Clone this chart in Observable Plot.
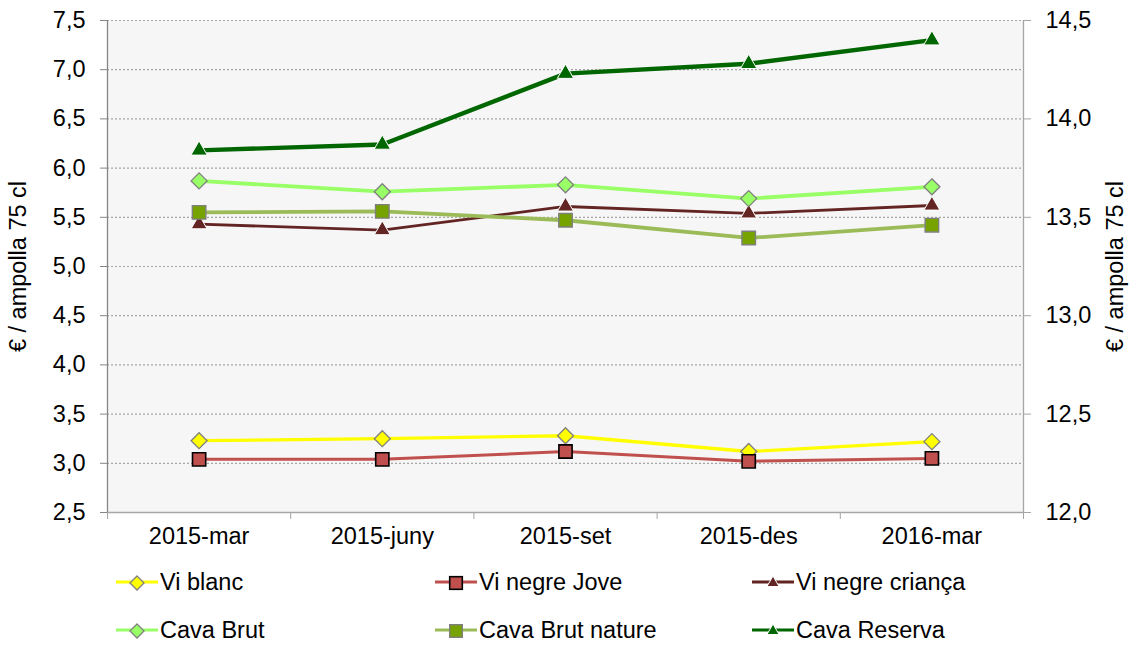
<!DOCTYPE html>
<html><head><meta charset="utf-8">
<script src="https://cdn.jsdelivr.net/npm/d3@7"></script>
<script src="https://cdn.jsdelivr.net/npm/@observablehq/plot@0.6"></script>
<style>
body{margin:0;background:#fff;font-family:"Liberation Sans",Arial,sans-serif;}
#wrap{position:relative;width:1132px;height:646px;overflow:hidden;}
.leg{position:absolute;display:flex;align-items:center;height:30px;font-size:23.5px;color:#000;white-space:nowrap;}
.leg svg{display:block;margin-right:2px;}
</style></head><body><div id="wrap"></div>
<script>
// ---- data ----
const categories = ["2015-mar", "2015-juny", "2015-set", "2015-des", "2016-mar"];
const viBlanc        = [3.23, 3.25, 3.28, 3.12, 3.22];
const viNegreJove    = [3.04, 3.04, 3.12, 3.02, 3.05];
const viNegreCrianca = [5.43, 5.37, 5.61, 5.54, 5.62];
const cavaBrut       = [5.87, 5.76, 5.83, 5.69, 5.81];
const cavaBrutNature = [5.55, 5.56, 5.47, 5.29, 5.42];
const cavaReserva    = [13.84, 13.87, 14.23, 14.28, 14.40]; // secondary (right) axis
const leftTicks  = [2.5, 3.0, 3.5, 4.0, 4.5, 5.0, 5.5, 6.0, 6.5, 7.0, 7.5];
const rightTicks = [12.0, 12.5, 13.0, 13.5, 14.0, 14.5];
const axisLabel = "€ / ampolla 75 cl";

const series = [
  {name: "Vi blanc",          values: viBlanc,        secondary: false},
  {name: "Vi negre Jove",     values: viNegreJove,    secondary: false},
  {name: "Vi negre criança",  values: viNegreCrianca, secondary: false},
  {name: "Cava Brut",         values: cavaBrut,       secondary: false},
  {name: "Cava Brut nature",  values: cavaBrutNature, secondary: false},
  {name: "Cava Reserva",      values: cavaReserva,    secondary: true}
];

// ---- styles ----
const styles = {
  "Vi blanc":         {line: "#ffff00", w: 3.3, symbol: "diamond2", fill: "#ffff00", stroke: "#7f7f7f", sw: 1.3, r: 7.2},
  "Vi negre Jove":    {line: "#c0504d", w: 3,   symbol: "square2",  fill: "#c0504d", stroke: "#000000", sw: 1.6, r: 8.4},
  "Vi negre criança": {line: "#632523", w: 2.8, symbol: "triangle2",fill: "#632523", stroke: "#ffffff", sw: 1,   r: 7.6},
  "Cava Brut":        {line: "#99ff66", w: 3.8, symbol: "diamond2", fill: "#99ff66", stroke: "#7f7f7f", sw: 1.3, r: 7.2},
  "Cava Brut nature": {line: "#9bbb59", w: 3.8, symbol: "square2",  fill: "#77a300", stroke: "#7f7f7f", sw: 1.4, r: 8.6},
  "Cava Reserva":     {line: "#006600", w: 4.4, symbol: "triangle2",fill: "#006600", stroke: "#ffffff", sw: 1,   r: 7.8}
};

const lo = leftTicks[0], hi = leftTicks[leftTicks.length - 1];
const rlo = rightTicks[0], rhi = rightTicks[rightTicks.length - 1];
const toLeft = v => lo + (v - rlo) * (hi - lo) / (rhi - rlo);
const fromLeft = v => rlo + (v - lo) * (rhi - rlo) / (hi - lo);
const fmt = v => v.toFixed(1).replace(".", ",");

const rows = series.flatMap(s => s.values.map((v, i) => ({
  series: s.name, cat: categories[i], x: i + 0.5, y: s.secondary ? toLeft(v) : v
})));

const seriesMarks = series.flatMap(s => {
  const st = styles[s.name];
  const d = rows.filter(r => r.series === s.name);
  return [
    Plot.line(d, {x: "x", y: "y", stroke: st.line, strokeWidth: st.w, strokeLinejoin: "round", strokeLinecap: "round"}),
    Plot.dot(d, {x: "x", y: "y", symbol: st.symbol, r: st.r, fill: st.fill, stroke: st.stroke, strokeWidth: st.sw})
  ];
});

const chart = Plot.plot({
  width: 1132, height: 548,
  marginTop: 20, marginBottom: 36, marginLeft: 107, marginRight: 109,
  style: {fontFamily: '"Liberation Sans", Arial, sans-serif', fontSize: "23.5px", color: "#000", background: "transparent", overflow: "visible"},
  x: {type: "linear", domain: [0, categories.length], axis: null},
  y: {domain: [lo, hi], axis: null},
  marks: [
    Plot.frame({fill: "#f6f6f6", stroke: null}),
    Plot.gridY(leftTicks.slice(1), {stroke: "#a6a6a6", strokeOpacity: 1, strokeDasharray: "2,2", strokeWidth: 1.2}),
    Plot.ruleX([0], {stroke: "#868686", strokeWidth: 1.3}),
    Plot.ruleX([categories.length], {stroke: "#a6a6a6", strokeWidth: 1.3}),
    Plot.ruleY([lo], {stroke: "#a6a6a6", strokeWidth: 1.3}),
    Plot.axisY({anchor: "left", ticks: leftTicks, tickSize: 7, tickPadding: 15, stroke: "#868686",
      tickFormat: fmt, label: axisLabel, labelAnchor: "center", labelOffset: 98, labelArrow: "none"}),
    Plot.axisY({anchor: "right", ticks: rightTicks.map(toLeft), tickSize: 7, tickPadding: 15, stroke: "#a6a6a6",
      tickFormat: d => fmt(fromLeft(d)), label: axisLabel, labelAnchor: "center", labelOffset: 99, labelArrow: "none"}),
    Plot.axisX({ticks: d3.range(categories.length + 1), tickFormat: () => "", tickSize: 7, stroke: "#a6a6a6", label: null}),
    Plot.axisX({ticks: categories.map((c, i) => i + 0.5), tickFormat: d => categories[Math.floor(d)], tickSize: 0, tickPadding: 15, label: null}),
    ...seriesMarks
  ]
});
const wrap = document.getElementById("wrap");
wrap.appendChild(chart);

// ---- legend (HTML below the SVG) ----
const legendCols = [116, 435, 752];
const legendRowCenters = [582, 630];
function markerShape(svg, st, cx, cy) {
  const ns = "http://www.w3.org/2000/svg";
  let el;
  if (st.symbol === "diamond2") {
    const h = 7;
    el = document.createElementNS(ns, "polygon");
    el.setAttribute("points", `${cx},${cy-h} ${cx+h},${cy} ${cx},${cy+h} ${cx-h},${cy}`);
  } else if (st.symbol === "square2") {
    const h = 6.3;
    el = document.createElementNS(ns, "rect");
    el.setAttribute("x", cx - h); el.setAttribute("y", cy - h);
    el.setAttribute("width", 2 * h); el.setAttribute("height", 2 * h);
  } else {
    const s = 7;
    el = document.createElementNS(ns, "polygon");
    el.setAttribute("points", `${cx},${cy-s} ${cx+s*0.866},${cy+s/2} ${cx-s*0.866},${cy+s/2}`);
  }
  el.setAttribute("fill", st.fill);
  el.setAttribute("stroke", st.stroke);
  el.setAttribute("stroke-width", st.sw);
  svg.appendChild(el);
}
series.forEach((s, k) => {
  const st = styles[s.name];
  const div = document.createElement("div");
  div.className = "leg";
  div.style.left = legendCols[k % 3] + "px";
  div.style.top = (legendRowCenters[Math.floor(k / 3)] - 15) + "px";
  const ns = "http://www.w3.org/2000/svg";
  const svg = document.createElementNS(ns, "svg");
  svg.setAttribute("width", 42); svg.setAttribute("height", 22);
  const ln = document.createElementNS(ns, "line");
  ln.setAttribute("x1", 0); ln.setAttribute("x2", 42); ln.setAttribute("y1", 11); ln.setAttribute("y2", 11);
  ln.setAttribute("stroke", st.line); ln.setAttribute("stroke-width", 3.2);
  svg.appendChild(ln);
  markerShape(svg, st, 21, 12);
  div.appendChild(svg);
  const span = document.createElement("span");
  span.textContent = s.name;
  div.appendChild(span);
  wrap.appendChild(div);
});
</script>
</body></html>
